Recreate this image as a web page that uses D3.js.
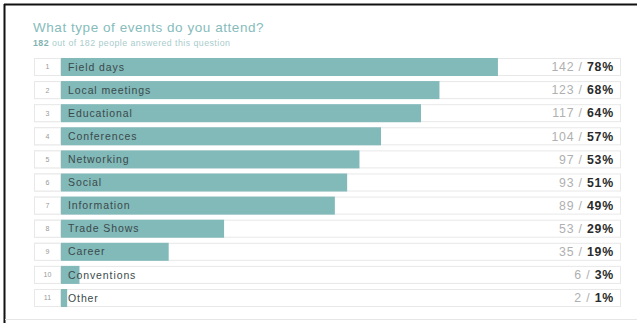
<!DOCTYPE html>
<html>
<head>
<meta charset="utf-8">
<script src="https://cdn.jsdelivr.net/npm/d3@7"></script>
<style>
  html, body { margin: 0; padding: 0; background: #fff; }
  svg { display: block; font-family: "Liberation Sans", Arial, Helvetica, sans-serif; }
</style>
</head>
<body>
<svg id="chart" width="637" height="323"></svg>
<script>
// Survey question and answers
const title = "What type of events do you attend?";
const answered = 182;
const respondents = 182;
const categories = ["Field days", "Local meetings", "Educational", "Conferences", "Networking",
  "Social", "Information", "Trade Shows", "Career", "Conventions", "Other"];
const counts = [142, 123, 117, 104, 97, 93, 89, 53, 35, 6, 2];
const percents = [78, 68, 64, 57, 53, 51, 49, 29, 19, 3, 1];

const rows = categories.map((c, i) => ({ i, name: c, count: counts[i], pct: percents[i] }));

const svg = d3.select("#chart");
const W = 637, H = 323;

// frame
svg.append("rect").attr("x", 0).attr("y", 0).attr("width", W).attr("height", H).attr("fill", "#fff");
svg.append("line").attr("x1", 4).attr("x2", W).attr("y1", 4.5).attr("y2", 4.5)
  .attr("stroke", "#111").attr("stroke-width", 2);
svg.append("line").attr("x1", 4.5).attr("x2", 4.5).attr("y1", 4).attr("y2", H)
  .attr("stroke", "#111").attr("stroke-width", 2);
svg.append("line").attr("x1", 5).attr("x2", W).attr("y1", 319.5).attr("y2", 319.5)
  .attr("stroke", "#e6e6e6").attr("stroke-width", 1);

// heading
svg.append("text").attr("x", 33).attr("y", 32)
  .attr("font-size", 13.5).attr("letter-spacing", 0.55).attr("fill", "#86bcbc").text(title);
const sub = svg.append("text").attr("x", 33).attr("y", 46)
  .attr("font-size", 8.8).attr("letter-spacing", 0.45).attr("fill", "#a9cccc");
sub.append("tspan").attr("font-weight", "bold").attr("fill", "#7fb3b3").text(answered);
sub.append("tspan").text(" out of " + respondents + " people answered this question");

// scales
const left = 34, numW = 27, right = 621;
const x = d3.scaleLinear().domain([0, 1]).range([left + numW, right]);
const y = d3.scaleBand().domain(rows.map(d => d.i)).range([52.9, 312.1]).padding(0.22);

const g = svg.append("g").selectAll("g").data(rows).join("g")
  .attr("transform", d => `translate(0,${y(d.i)})`);
const bh = y.bandwidth();

// row container
g.append("rect").attr("x", left + 0.5).attr("y", 0.5)
  .attr("width", right - left - 1).attr("height", bh - 1)
  .attr("fill", "#fff").attr("stroke", "#e8e8e8");
// rank box
g.append("rect").attr("x", left + 0.5).attr("y", 0.5)
  .attr("width", numW - 1).attr("height", bh - 1)
  .attr("fill", "#fff").attr("stroke", "#e8e8e8");
g.append("text").attr("x", left + numW / 2).attr("y", bh / 2 + 2.5)
  .attr("text-anchor", "middle").attr("font-size", 7).attr("fill", "#999")
  .text(d => d.i + 1);

// bars
g.append("rect").attr("x", x(0)).attr("y", 0)
  .attr("width", d => x(d.count / respondents) - x(0)).attr("height", bh)
  .attr("fill", "#82b9b9");

// labels
g.append("text").attr("x", x(0) + 7).attr("y", bh / 2 + 3.7)
  .attr("font-size", 10.5).attr("letter-spacing", 0.9).attr("fill", "#3a4a4a")
  .text(d => d.name);

// values
const v = g.append("text").attr("x", right - 7).attr("y", bh / 2 + 4.3)
  .attr("text-anchor", "end").attr("font-size", 12.3);
v.append("tspan").attr("fill", "#b0b0b0").attr("letter-spacing", 0.8).text(d => d.count + " / ");
v.append("tspan").attr("fill", "#2a2a2a").attr("font-weight", "bold").attr("letter-spacing", 0.8).text(d => d.pct + "%");
</script>
</body>
</html>
